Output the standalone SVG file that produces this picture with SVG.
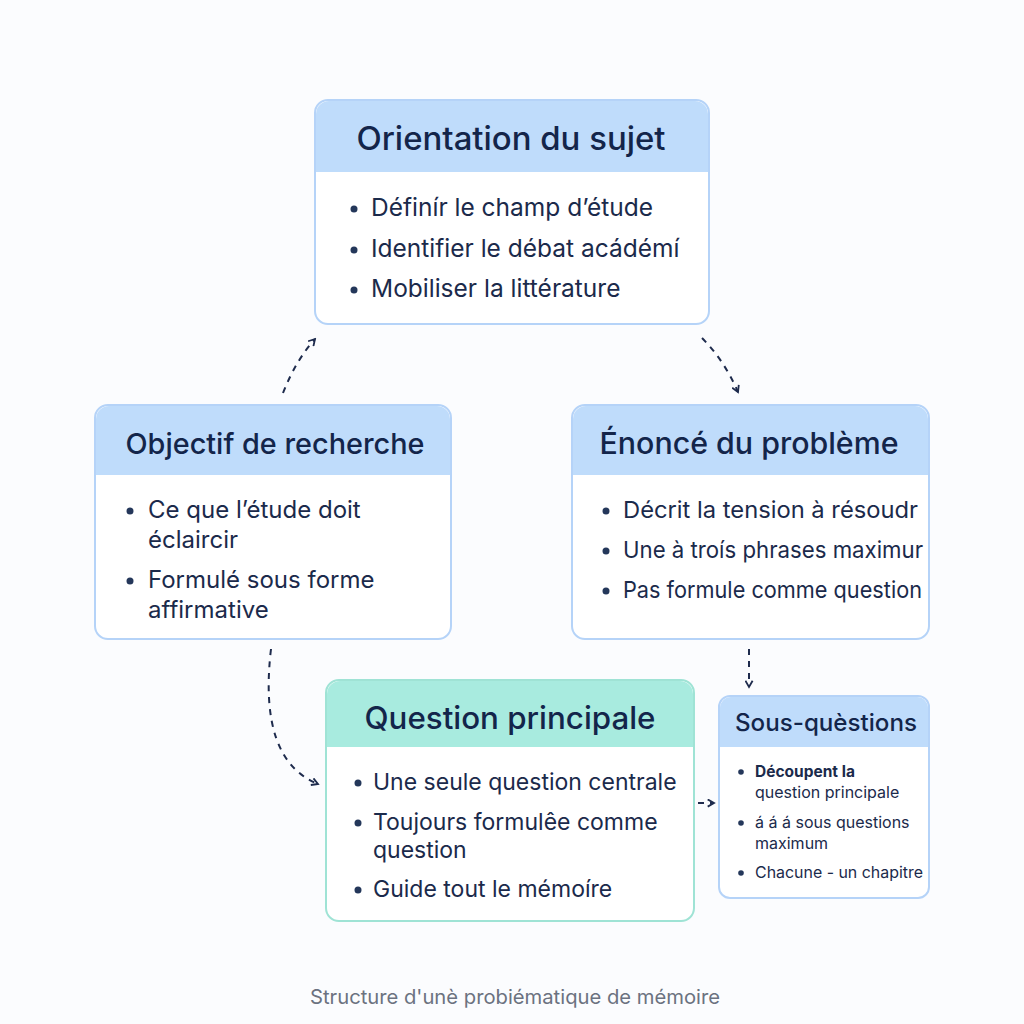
<svg xmlns="http://www.w3.org/2000/svg" width="1024" height="1024" viewBox="0 0 1024 1024">
<style>
.bg{fill:#fbfcfe}
.box{fill:#ffffff;stroke:#b5d3f8;stroke-width:2}
.boxg{fill:#ffffff;stroke:#9fe3d5;stroke-width:2}
.hd{fill:#bfdcfb}
.hdg{fill:#a8ebdf}
.title{font-family:Inter,"Noto Sans",sans-serif;font-weight:500;fill:#13254a;text-anchor:middle}
.txt{font-family:Inter,"Noto Sans",sans-serif;fill:#1b2a4b}
.dot{fill:#24375a}
.con{fill:none;stroke:#1e2b4d;stroke-width:2;stroke-dasharray:6 6}
.cap{font-family:Inter,"Noto Sans",sans-serif;fill:#6b7280;font-size:20px;text-anchor:middle}
</style>
<defs>
<marker id="ah" viewBox="0 0 10 10" refX="8" refY="5" markerWidth="9" markerHeight="9" orient="auto" markerUnits="userSpaceOnUse">
<path d="M1,1 L8,5 L1,9" fill="none" stroke="#1e2b4d" stroke-width="2"/>
</marker>
</defs>
<rect class="bg" x="0" y="0" width="1024" height="1024"/>

<g id="orientation">
<rect class="box" x="315" y="100" width="394" height="224" rx="13"/>
<path class="hd" d="M316,172 V114 A13,13 0 0 1 329,101 H695 A13,13 0 0 1 708,114 V172 Z"/>
<text class="title" x="511" y="150" font-size="32" textLength="309" lengthAdjust="spacingAndGlyphs">Orientation du sujet</text>
<circle class="dot" cx="354" cy="209" r="3.5"/>
<text class="txt" x="371" y="216" font-size="24.5">Définír le champ d’étude</text>
<circle class="dot" cx="354" cy="250" r="3.5"/>
<text class="txt" x="371" y="257" font-size="24.5">Identifier le débat acádémí</text>
<circle class="dot" cx="354" cy="290" r="3.5"/>
<text class="txt" x="371" y="297" font-size="24.5">Mobiliser la littérature</text>
</g>

<g id="objectif">
<rect class="box" x="95" y="405" width="356" height="234" rx="13"/>
<path class="hd" d="M96,475 V419 A13,13 0 0 1 109,406 H437 A13,13 0 0 1 450,419 V475 Z"/>
<text class="title" x="275" y="454" font-size="29" textLength="299" lengthAdjust="spacingAndGlyphs">Objectif de recherche</text>
<circle class="dot" cx="130" cy="511" r="3.5"/>
<text class="txt" x="148" y="518" font-size="24">Ce que l’étude doit</text>
<text class="txt" x="148" y="548" font-size="24">éclaircir</text>
<circle class="dot" cx="130" cy="581" r="3.5"/>
<text class="txt" x="148" y="588" font-size="24">Formulé sous forme</text>
<text class="txt" x="148" y="618" font-size="24">affirmative</text>
</g>

<g id="enonce">
<rect class="box" x="572" y="405" width="357" height="234" rx="13"/>
<path class="hd" d="M573,475 V419 A13,13 0 0 1 586,406 H915 A13,13 0 0 1 928,419 V475 Z"/>
<text class="title" x="749" y="454" font-size="30" textLength="299" lengthAdjust="spacingAndGlyphs">Énoncé du problème</text>
<circle class="dot" cx="606" cy="511" r="3.5"/>
<text class="txt" x="623" y="518" font-size="23" textLength="295" lengthAdjust="spacingAndGlyphs">Décrit la tension à résoudr</text>
<circle class="dot" cx="606" cy="551" r="3.5"/>
<text class="txt" x="623" y="558" font-size="23" textLength="300" lengthAdjust="spacingAndGlyphs">Une à troís phrases maximur</text>
<circle class="dot" cx="606" cy="591" r="3.5"/>
<text class="txt" x="623" y="598" font-size="23" textLength="299" lengthAdjust="spacingAndGlyphs">Pas formule comme question</text>
</g>

<g id="question">
<rect class="boxg" x="326" y="680" width="368" height="241" rx="13"/>
<path class="hdg" d="M327,747 V694 A13,13 0 0 1 340,681 H680 A13,13 0 0 1 693,694 V747 Z"/>
<text class="title" x="510" y="729" font-size="31" textLength="291" lengthAdjust="spacingAndGlyphs">Question principale</text>
<circle class="dot" cx="358" cy="783" r="3.5"/>
<text class="txt" x="373" y="790" font-size="23">Une seule question centrale</text>
<circle class="dot" cx="358" cy="823" r="3.5"/>
<text class="txt" x="373" y="830" font-size="23">Toujours formulêe comme</text>
<text class="txt" x="373" y="858" font-size="23">question</text>
<circle class="dot" cx="358" cy="890" r="3.5"/>
<text class="txt" x="373" y="897" font-size="23">Guide tout le mémoíre</text>
</g>

<g id="sousquestions">
<rect class="box" x="719" y="696" width="210" height="202" rx="11"/>
<path class="hd" d="M720,747 V708 A11,11 0 0 1 731,697 H917 A11,11 0 0 1 928,708 V747 Z"/>
<text class="title" x="826" y="731" font-size="24" textLength="182" lengthAdjust="spacingAndGlyphs">Sous-quèstions</text>
<circle class="dot" cx="741" cy="772" r="2.8"/>
<text class="txt" x="755" y="777" font-size="15.5" font-weight="700">Découpent la</text>
<text class="txt" x="755" y="798" font-size="16">question principale</text>
<circle class="dot" cx="741" cy="823" r="2.8"/>
<text class="txt" x="755" y="828" font-size="16">á á á sous questions</text>
<text class="txt" x="755" y="849" font-size="16">maximum</text>
<circle class="dot" cx="741" cy="873" r="2.8"/>
<text class="txt" x="755" y="878" font-size="16" textLength="168" lengthAdjust="spacingAndGlyphs">Chacune - un chapitre</text>
</g>

<g id="connectors">
<path class="con" d="M283,393 Q296,360 315,339" marker-end="url(#ah)"/>
<path class="con" d="M702,338 Q724,360 738,392" marker-end="url(#ah)"/>
<path class="con" d="M271,649 Q258,760 318,784" marker-end="url(#ah)"/>
<path class="con" d="M749,649 L749,687" marker-end="url(#ah)"/>
<path class="con" d="M698,803 L714,803" marker-end="url(#ah)" stroke-dasharray="4 4"/>
</g>

<text class="cap" x="515" y="1004" textLength="410" lengthAdjust="spacingAndGlyphs">Structure d'unè probiématique de mémoire</text>
</svg>
